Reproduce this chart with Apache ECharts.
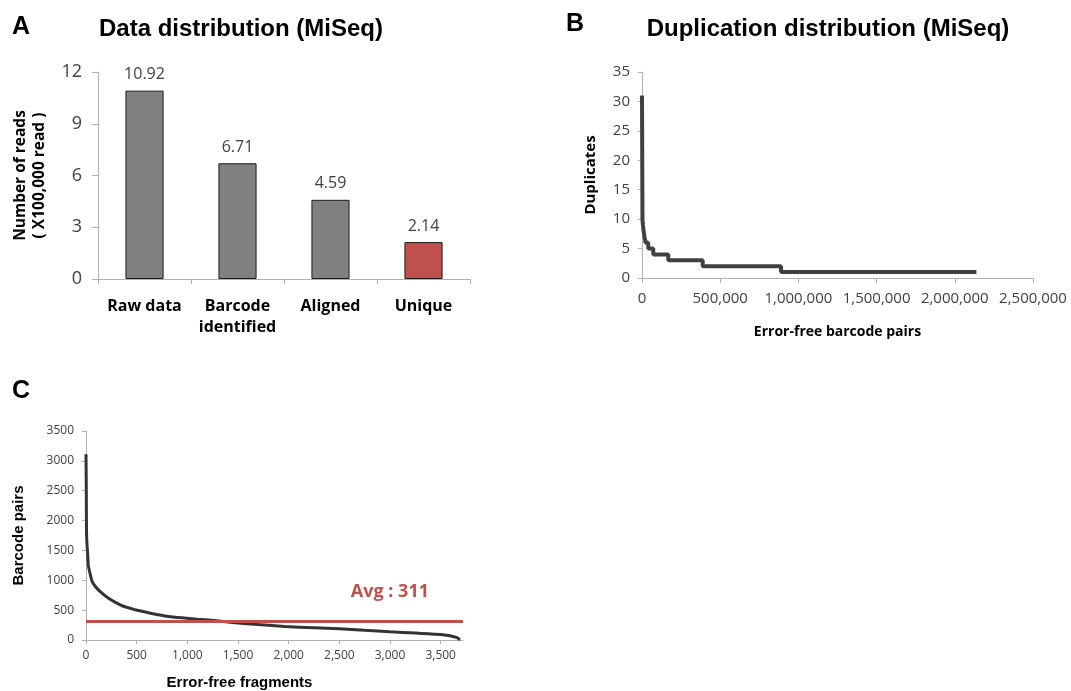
<!DOCTYPE html>
<html>
<head>
<meta charset="utf-8">
<script src="https://cdn.jsdelivr.net/npm/echarts@6/dist/echarts.min.js"></script>
<style>
  html, body { margin: 0; padding: 0; background: #fff; }
  #chart { width: 1071px; height: 691px; }
</style>
</head>
<body>
<div id="chart"></div>
<script>
// A: read counts per stage (x100,000 reads)
const stageNames = ['Raw data', 'Barcode\nidentified', 'Aligned', 'Unique']
const readCounts = [10.92, 6.71, 4.59, 2.14]

// B: duplicates per error-free barcode pair (step curve, level starts at x)
const pairRank = [0, 3000, 6000, 10000, 16000, 23000, 40000, 72000, 168000, 388000, 889000, 2138000]
const duplicates = [31, 10, 9, 8, 7, 6, 5, 4, 3, 2, 1, 1]

// C: barcode pairs per error-free fragment (sorted)
const fragRank = [0, 3, 5, 10, 16, 23, 42, 60, 90, 122, 175, 230, 286, 370, 450, 517, 648, 813, 977, 1100, 1240, 1470, 1700, 1964, 2250, 2500, 2750, 3000, 3250, 3500, 3560, 3620, 3660, 3690]
const barcodePairs = [3110, 2500, 1820, 1600, 1460, 1250, 1100, 980, 900, 840, 760, 690, 635, 565, 525, 493, 444, 395, 367, 348, 329, 290, 258, 227, 205, 187, 162, 138, 116, 94, 78, 58, 40, 5]
const fragAvg = 311

const uniqueIndex = 3

const chart = echarts.init(document.getElementById('chart'))

const tickFont = { fontFamily: 'Open Sans', color: '#404040' }
const axisGray = { lineStyle: { color: '#b0b0b0', width: 1 } }
const fmt = v => Number(v).toLocaleString('en-US')
const plain = v => String(v)

chart.setOption({
  animation: false,
  backgroundColor: '#fff',

  graphic: [
    { type: 'text', left: 12, top: 15, style: { text: 'A', font: 'bold 25px "Liberation Sans"', fill: '#000' } },
    { type: 'text', left: 566, top: 12, style: { text: 'B', font: 'bold 25px "Liberation Sans"', fill: '#000' } },
    { type: 'text', left: 12, top: 379, style: { text: 'C', font: 'bold 25px "Liberation Sans"', fill: '#000' } },
    { type: 'text', x: 241, y: 29, style: { text: 'Data distribution (MiSeq)', font: 'bold 24px "Liberation Sans"', fill: '#000', textAlign: 'center', textVerticalAlign: 'middle' } },
    { type: 'text', x: 828, y: 29, style: { text: 'Duplication distribution (MiSeq)', font: 'bold 24px "Liberation Sans"', fill: '#000', textAlign: 'center', textVerticalAlign: 'middle' } }
  ],

  grid: [
    { left: 98, top: 72, width: 372, height: 207 },
    { left: 642, top: 72, width: 391, height: 206 },
    { left: 86, top: 431, width: 377, height: 211 }
  ],

  xAxis: [
    {
      gridIndex: 0,
      type: 'category',
      data: stageNames,
      axisLine: axisGray,
      axisTick: { show: true, length: 5, lineStyle: { color: '#b0b0b0' } },
      axisLabel: { interval: 0, margin: 17, fontSize: 16, fontWeight: 'bold', fontFamily: 'Open Sans', color: '#000', lineHeight: 21 }
    },
    {
      gridIndex: 1,
      type: 'value',
      min: 0,
      max: 2500000,
      interval: 500000,
      splitLine: { show: false },
      axisLine: axisGray,
      axisTick: { show: true, length: 5, lineStyle: { color: '#b0b0b0' } },
      axisLabel: Object.assign({ margin: 13, fontSize: 15, formatter: fmt }, tickFont),
      name: 'Error-free barcode pairs',
      nameLocation: 'middle',
      nameGap: 47,
      nameTextStyle: { fontSize: 14, fontWeight: 'bold', fontFamily: 'Open Sans', color: '#000' }
    },
    {
      gridIndex: 2,
      type: 'value',
      min: 0,
      max: 3720,
      interval: 500,
      splitLine: { show: false },
      axisLine: axisGray,
      axisTick: { show: true, length: 4, lineStyle: { color: '#b0b0b0' } },
      axisLabel: Object.assign({ margin: 10, fontSize: 12, formatter: fmt, showMaxLabel: false }, tickFont),
      name: 'Error-free fragments',
      nameLocation: 'middle',
      nameGap: 35,
      nameTextStyle: { fontSize: 15, fontWeight: 'bold', fontFamily: 'Liberation Sans', color: '#000', padding: [0, 70, 0, 0] }
    }
  ],

  yAxis: [
    {
      gridIndex: 0,
      type: 'value',
      min: 0,
      max: 12,
      interval: 3,
      splitLine: { show: false },
      axisLine: { show: true, lineStyle: { color: '#b0b0b0' } },
      axisTick: { show: true, length: 6, lineStyle: { color: '#b0b0b0' } },
      axisLabel: Object.assign({ margin: 16, fontSize: 18, formatter: plain }, tickFont),
      name: 'Number of reads\n( X100,000 read )',
      nameLocation: 'middle',
      nameGap: 49,
      nameTextStyle: { fontSize: 15.5, fontWeight: 'bold', fontFamily: 'Open Sans', color: '#000', lineHeight: 19 }
    },
    {
      gridIndex: 1,
      type: 'value',
      min: 0,
      max: 35,
      interval: 5,
      splitLine: { show: false },
      axisLine: { show: true, lineStyle: { color: '#b0b0b0' } },
      axisTick: { show: true, length: 4, lineStyle: { color: '#b0b0b0' } },
      axisLabel: Object.assign({ margin: 12, fontSize: 15, formatter: plain }, tickFont),
      name: 'Duplicates',
      nameLocation: 'middle',
      nameGap: 44,
      nameTextStyle: { fontSize: 15, fontWeight: 'bold', fontFamily: 'Open Sans', color: '#000' }
    },
    {
      gridIndex: 2,
      type: 'value',
      min: 0,
      max: 3500,
      interval: 500,
      splitLine: { show: false },
      axisLine: { show: true, lineStyle: { color: '#b0b0b0' } },
      axisTick: { show: true, length: 4, lineStyle: { color: '#b0b0b0' } },
      axisLabel: Object.assign({ margin: 12, fontSize: 12, formatter: plain }, tickFont),
      name: 'Barcode pairs',
      nameLocation: 'middle',
      nameGap: 60,
      nameTextStyle: { fontSize: 15, fontWeight: 'bold', fontFamily: 'Liberation Sans', color: '#000' }
    }
  ],

  series: [
    {
      type: 'bar',
      xAxisIndex: 0,
      yAxisIndex: 0,
      barWidth: '41%',
      data: readCounts.map((v, i) => ({
        value: v,
        itemStyle: { color: i === uniqueIndex ? '#c0504d' : '#808080', borderColor: '#1a1a1a', borderWidth: 1 }
      })),
      label: {
        show: true,
        position: 'top',
        distance: 8,
        fontSize: 16,
        fontFamily: 'Open Sans',
        color: '#404040',
        formatter: p => p.value.toFixed(2)
      }
    },
    {
      type: 'line',
      xAxisIndex: 1,
      yAxisIndex: 1,
      step: 'end',
      showSymbol: false,
      lineStyle: { color: '#404040', width: 4 },
      data: pairRank.map((x, i) => [x, duplicates[i]])
    },
    {
      type: 'line',
      xAxisIndex: 2,
      yAxisIndex: 2,
      showSymbol: false,
      smooth: 0.2,
      lineStyle: { color: '#333333', width: 3 },
      data: fragRank.map((x, i) => [x, barcodePairs[i]]),
      markLine: {
        silent: true,
        symbol: 'none',
        lineStyle: { color: '#c0504d', width: 3, type: 'solid' },
        label: {
          show: true,
          position: 'insideEndTop',
          distance: [34, 21],
          formatter: 'Avg : ' + fragAvg,
          fontSize: 18,
          fontWeight: 'bold',
          fontFamily: 'Open Sans',
          color: '#c0504d'
        },
        data: [{ yAxis: fragAvg }]
      }
    }
  ]
})
</script>
</body>
</html>
